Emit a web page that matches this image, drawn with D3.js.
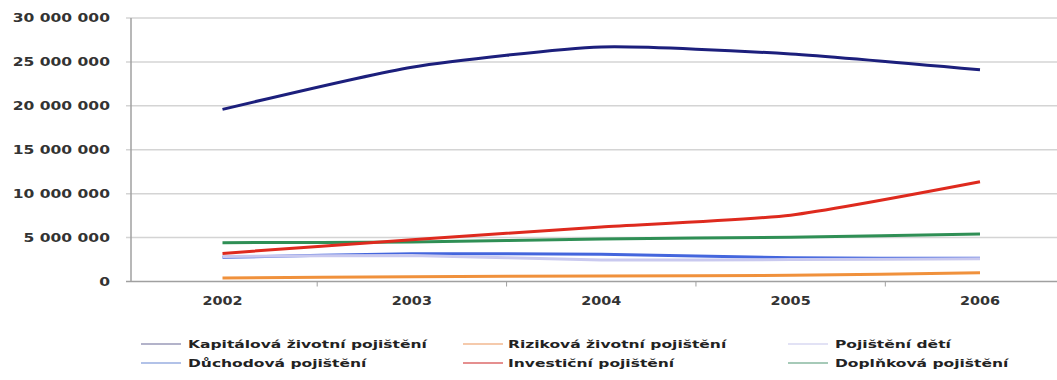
<!DOCTYPE html>
<html><head><meta charset="utf-8">
<script src="https://cdn.jsdelivr.net/npm/d3@7"></script>
<style>
html,body{margin:0;padding:0;background:#fff;}
text{font-family:"DejaVu Sans",Verdana,sans-serif;font-weight:bold;fill:#333;}
</style></head><body>
<svg id="c" width="1057" height="380"></svg>
<script>
const years = ["2002","2003","2004","2005","2006"];
const yTicks = [0,5000000,10000000,15000000,20000000,25000000,30000000];
const kapitalova = [19600000,24400000,26700000,25900000,24100000];
const rizikova   = [400000,550000,620000,700000,1000000];
const deti       = [2850000,2950000,2450000,2500000,2600000];
const duchodova  = [2750000,3150000,3100000,2700000,2640000];
const investicni = [3200000,4750000,6200000,7550000,11350000];
const doplnkova  = [4420000,4500000,4850000,5050000,5400000];
const seriesNames = ["Kapitálová životní pojištění","Riziková životní pojištění","Pojištění dětí",
                     "Důchodová pojištění","Investiční pojištění","Doplňková pojištění"];
const seriesValues = [kapitalova,rizikova,deti,duchodova,investicni,doplnkova];
const colors = ["#1c1f7c","#f0913c","#c9c9ef","#4466dd","#de2a1e","#2f8f55"];
const legendColors = ["#9a9ab8","#f2b890","#d8d8f2","#98aee0","#dc6a6a","#88b8a0"];

const svg = d3.select("#c");
const axisX = 131, rightX = 1057, topY = 18, bottomY = 281.5;
const x = d3.scalePoint().domain(years).range([222.5, 980]);
const y = d3.scaleLinear().domain([0,30000000]).range([bottomY, topY]);
const fmt = v => d3.format(",")(v).replace(/,/g," ");

function stretch(sel, k){
  sel.each(function(){
    const l = this.getComputedTextLength();
    this.setAttribute("textLength", l*k);
    this.setAttribute("lengthAdjust","spacingAndGlyphs");
  });
}

// gridlines
svg.append("g").selectAll("line").data(yTicks.filter(d=>d>0)).join("line")
  .attr("x1",axisX-5).attr("x2",rightX).attr("y1",d=>y(d)).attr("y2",d=>y(d))
  .attr("stroke","#d4d4d4").attr("stroke-width",1.5);

// y axis line
svg.append("line").attr("x1",axisX).attr("x2",axisX).attr("y1",topY).attr("y2",bottomY)
  .attr("stroke","#a0a0a0").attr("stroke-width",1.5);
// x axis line
svg.append("line").attr("x1",axisX-5).attr("x2",rightX).attr("y1",bottomY).attr("y2",bottomY)
  .attr("stroke","#a0a0a0").attr("stroke-width",1.5);
// x ticks at category boundaries
const step = x.step();
const bounds = years.map(d=>x(d)+step/2);
svg.append("g").selectAll("line").data(bounds).join("line")
  .attr("x1",d=>d).attr("x2",d=>d).attr("y1",bottomY).attr("y2",bottomY+5)
  .attr("stroke","#a0a0a0").attr("stroke-width",1);

// y labels
const yl = svg.append("g").selectAll("text").data(yTicks).join("text")
  .attr("x",110).attr("y",d=>y(d)).attr("dy","0.36em").attr("text-anchor","end")
  .style("font-size","11.5px").text(fmt);
stretch(yl,1.35);

// x labels
const xl = svg.append("g").selectAll("text").data(years).join("text")
  .attr("x",d=>x(d)).attr("y",305).attr("text-anchor","middle")
  .style("font-size","12px").text(d=>d);
stretch(xl,1.2);

// lines
const line = d3.line().x((d,i)=>x(years[i])).y(d=>y(d)).curve(d3.curveCardinal.tension(0.4));
const order = [1,3,2,5,4,0];
svg.append("g").selectAll("path").data(order).join("path")
  .attr("d",i=>line(seriesValues[i])).attr("fill","none")
  .attr("stroke",i=>colors[i]).attr("stroke-width",3).attr("stroke-linecap","butt");

// legend
const legX = [141,463,788], legTextX = [188,508,835], legY = [344,363];
const lg = svg.append("g").selectAll("g").data(seriesNames).join("g");
lg.append("line")
  .attr("x1",(d,i)=>legX[i%3]).attr("x2",(d,i)=>legX[i%3]+40)
  .attr("y1",(d,i)=>legY[Math.floor(i/3)]).attr("y2",(d,i)=>legY[Math.floor(i/3)])
  .attr("stroke",(d,i)=>legendColors[i]).attr("stroke-width",1.5);
const lt = lg.append("text")
  .attr("x",(d,i)=>legTextX[i%3]).attr("y",(d,i)=>legY[Math.floor(i/3)]).attr("dy","0.36em")
  .style("font-size","10px").style("fill","#222").text(d=>d);
stretch(lt,1.55);
</script>
</body></html>
